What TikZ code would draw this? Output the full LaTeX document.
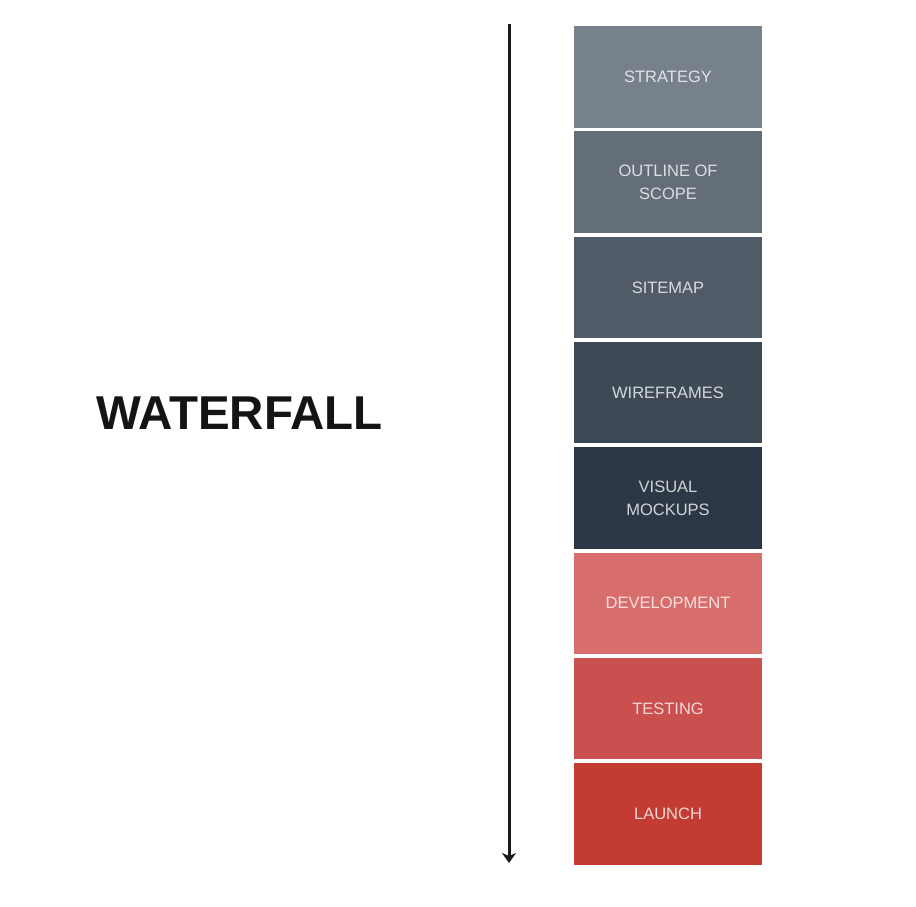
\documentclass[tikz,border=0pt]{standalone}
\usepackage{fontspec}
\setmainfont{Liberation Sans}
\usetikzlibrary{arrows.meta}
\definecolor{cA}{HTML}{77818B}
\definecolor{cB}{HTML}{646E79}
\definecolor{cC}{HTML}{505B67}
\definecolor{cD}{HTML}{3E4956}
\definecolor{cE}{HTML}{2D3846}
\definecolor{cF}{HTML}{D86E6B}
\definecolor{cG}{HTML}{C9504F}
\definecolor{cH}{HTML}{C23C34}
\tikzset{
  phase/.style={minimum width=188pt, minimum height=101.5pt, inner sep=0pt,
    align=center, text=white, text opacity=0.78,
    font=\fontsize{16.5}{23}\selectfont},
  title/.style={font=\fontsize{47.5}{50}\selectfont\bfseries, text=black!92},
  flow/.style={line width=3pt, -{Stealth[length=10pt,width=14pt,inset=3pt]}, black!90}
}
\begin{document}
\begin{tikzpicture}[x=1pt,y=-1pt]
\useasboundingbox (0,0) rectangle (916,906);
\node[phase, fill=cA] (s1) at (668,76.75) {STRATEGY};
\node[phase, fill=cB] (s2) at (668,182.05) {OUTLINE OF\\SCOPE};
\node[phase, fill=cC] (s3) at (668,287.35) {SITEMAP};
\node[phase, fill=cD] (s4) at (668,392.65) {WIREFRAMES};
\node[phase, fill=cE] (s5) at (668,497.95) {VISUAL\\MOCKUPS};
\node[phase, fill=cF] (s6) at (668,603.25) {DEVELOPMENT};
\node[phase, fill=cG] (s7) at (668,708.55) {TESTING};
\node[phase, fill=cH] (s8) at (668,813.85) {LAUNCH};
\node[title] (t) at (239.5,413) {WATERFALL};
\coordinate (a0) at (509,24);
\coordinate (a1) at (509,863);
\draw[flow] (a0) -- (a1);
\end{tikzpicture}
\end{document}
